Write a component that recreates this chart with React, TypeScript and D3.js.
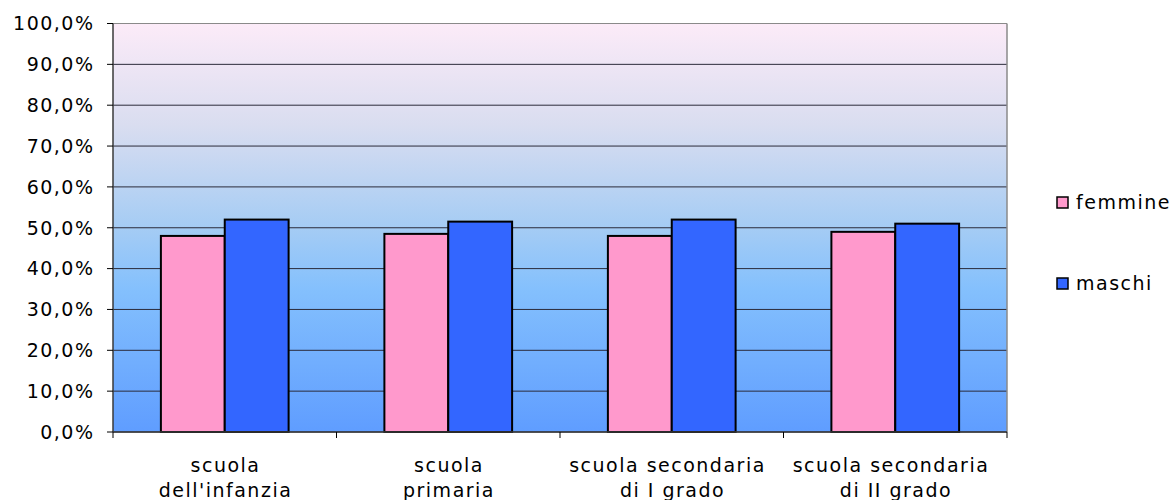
import React from "react";
import * as d3 from "d3";

const categories: string[][] = [
  ["scuola", "dell'infanzia"],
  ["scuola", "primaria"],
  ["scuola secondaria", "di I grado"],
  ["scuola secondaria", "di II grado"],
];
const femmine = [48.0, 48.5, 48.0, 49.0];
const maschi = [52.0, 51.5, 52.0, 51.0];
const yTicks = [0, 10, 20, 30, 40, 50, 60, 70, 80, 90, 100];
const seriesNames = ["femmine", "maschi"];
const seriesColors = ["#FF99CC", "#3366FF"];

const W = 1176;
const H = 500;
const left = 113;
const right = 1007;
const top = 23.5;
const bottom = 432;

export default function App() {
  const x = d3.scaleBand<number>().domain(d3.range(categories.length)).range([left, right]).paddingInner(0).paddingOuter(0);
  const y = d3.scaleLinear().domain([0, 100]).range([bottom, top]);
  const bw = x.bandwidth();
  const barW = bw / (2 + 1.5);
  const fmt = (v: number) => v.toFixed(1).replace(".", ",") + "%";
  const font = "'DejaVu Sans', Verdana, sans-serif";
  const series = [femmine, maschi];
  const xTicks = d3.range(categories.length + 1).map((i) => left + i * bw);

  return (
    <svg width={W} height={H} style={{ position: "absolute", left: 0, top: 0 }}>
      <defs>
        <linearGradient id="bg" x1="0" y1="0" x2="0" y2="1">
          <stop offset="0" stopColor="#FCEBF8" />
          <stop offset="0.25" stopColor="#D9DDF0" />
          <stop offset="0.5" stopColor="#A5CCF4" />
          <stop offset="0.65" stopColor="#84C0FD" />
          <stop offset="1" stopColor="#5F9DFF" />
        </linearGradient>
      </defs>
      <rect x={0} y={0} width={W} height={H} fill="#ffffff" />
      <rect x={left} y={top} width={right - left} height={bottom - top} fill="url(#bg)" />
      {yTicks.map((t) => (
        <line key={"g" + t} x1={left} x2={right} y1={y(t)} y2={y(t)} stroke={t === 100 ? "#8a8a8a" : "#2b2b3a"} strokeWidth={1} />
      ))}
      <line x1={right} x2={right} y1={top} y2={bottom} stroke="#8a8a8a" strokeWidth={1.5} />
      {series.map((vals, s) =>
        vals.map((v, i) => (
          <rect
            key={s + "-" + i}
            x={(x(i) as number) + barW * 0.75 + s * barW}
            y={y(v)}
            width={barW}
            height={bottom - y(v)}
            fill={seriesColors[s]}
            stroke="#000"
            strokeWidth={2}
          />
        ))
      )}
      <line x1={left} x2={left} y1={top} y2={bottom} stroke="#3a3a3a" strokeWidth={1.5} />
      <line x1={left} x2={right} y1={bottom} y2={bottom} stroke="#3a3a3a" strokeWidth={1.5} />
      {yTicks.map((t) => (
        <g key={"t" + t}>
          <line x1={left - 6} x2={left} y1={y(t)} y2={y(t)} stroke="#000" strokeWidth={1} />
          <text x={94.5} y={y(t)} dy="0.36em" textAnchor="end" fontFamily={font} fontSize={19} letterSpacing={1.5} fill="#000">
            {fmt(t)}
          </text>
        </g>
      ))}
      {xTicks.map((t, i) => (
        <line key={"xt" + i} x1={t} x2={t} y1={bottom} y2={bottom + 6} stroke="#000" strokeWidth={1} />
      ))}
      {categories.map((lines, i) => (
        <text key={"c" + i} textAnchor="middle" fontFamily={font} fontSize={19} letterSpacing={1.5} fill="#000">
          {lines.map((l, j) => (
            <tspan key={j} x={(x(i) as number) + bw / 2 + 0.75 + (j === 0 && l.includes(" ") ? -5 : 0)} y={472 + j * 24.5}>
              {l}
            </tspan>
          ))}
        </text>
      ))}
      {seriesNames.map((n, s) => (
        <g key={"l" + n} transform={`translate(0, ${s * 81})`}>
          <rect x={1057} y={197} width={11} height={11} fill={seriesColors[s]} stroke="#000" strokeWidth={1.5} />
          <text x={1076} y={202.5} dy="0.36em" fontFamily={font} fontSize={19} letterSpacing={1.5} fill="#000">
            {n}
          </text>
        </g>
      ))}
    </svg>
  );
}
